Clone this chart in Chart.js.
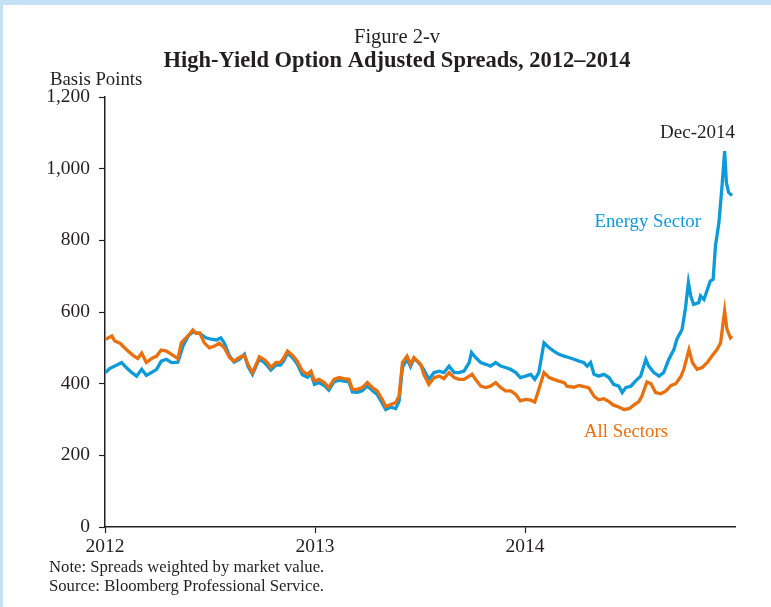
<!DOCTYPE html>
<html>
<head>
<meta charset="utf-8">
<script src="https://cdn.jsdelivr.net/npm/chart.js@4"></script>
<style>
  html, body { margin: 0; padding: 0; background: #ffffff; }
  #wrap { position: relative; width: 771px; height: 607px; overflow: hidden; }
  #c { position: absolute; left: 0; top: 0; }
  .band-top { position: absolute; left: 0; top: 0; width: 771px; height: 5px; background: #c5e1f5; }
  .band-left { position: absolute; left: 0; top: 0; width: 3px; height: 607px; background: #c5e1f5; }
</style>
</head>
<body>
<div id="wrap">
  <canvas id="c" width="771" height="607"></canvas>
  <div class="band-top"></div>
  <div class="band-left"></div>
</div>
<script>
// ---- Data (basis points) ----
const allSectorsDates = [
  '2012-01-02','2012-01-13','2012-01-18','2012-01-27','2012-02-01','2012-02-10','2012-02-19','2012-02-27',
  '2012-03-05','2012-03-13','2012-03-22','2012-03-31','2012-04-08','2012-04-17','2012-04-26','2012-05-07',
  '2012-05-13','2012-05-19','2012-05-28','2012-06-02','2012-06-08','2012-06-14','2012-06-22','2012-07-01',
  '2012-07-10','2012-07-18','2012-07-27','2012-08-05','2012-08-13','2012-08-22','2012-08-31','2012-09-06',
  '2012-09-14','2012-09-23','2012-09-26','2012-10-04','2012-10-10','2012-10-16','2012-10-25','2012-11-02',
  '2012-11-08','2012-11-14','2012-11-23','2012-12-01','2012-12-10','2012-12-19','2012-12-25','2012-12-31',
  '2013-01-08','2013-01-17','2013-01-25','2013-02-03','2013-02-12','2013-02-20','2013-03-01','2013-03-07',
  '2013-03-16','2013-03-24','2013-04-02','2013-04-11','2013-04-19','2013-04-28','2013-05-04','2013-05-13',
  '2013-05-21','2013-05-27','2013-06-02','2013-06-10','2013-06-16','2013-06-22','2013-06-28','2013-07-04',
  '2013-07-09','2013-07-18','2013-07-27','2013-08-05','2013-08-13','2013-08-22','2013-08-31','2013-09-08',
  '2013-09-17','2013-09-26','2013-10-01','2013-10-07','2013-10-16','2013-10-25','2013-11-02','2013-11-11',
  '2013-11-20','2013-11-28','2013-12-07','2013-12-16','2013-12-24','2014-01-02','2014-01-11','2014-01-18',
  '2014-01-25','2014-02-03','2014-02-12','2014-02-20','2014-03-01','2014-03-10','2014-03-15','2014-03-27',
  '2014-04-05','2014-04-13','2014-04-22','2014-05-01','2014-05-09','2014-05-18','2014-05-27','2014-06-04',
  '2014-06-13','2014-06-22','2014-07-01','2014-07-09','2014-07-18','2014-07-23','2014-08-01','2014-08-08',
  '2014-08-16','2014-08-25','2014-09-03','2014-09-12','2014-09-20','2014-09-29','2014-10-04','2014-10-13',
  '2014-10-19','2014-10-27','2014-11-05','2014-11-14','2014-11-22','2014-12-01','2014-12-07','2014-12-14',
  '2014-12-18','2014-12-24','2014-12-27'
];
const allSectorsValues = [
  524,533,519,513,505,491,479,470,
  485,459,470,477,494,491,482,470,
  514,524,540,550,540,542,514,500,
  505,513,500,473,463,473,479,454,
  431,463,475,468,459,445,459,460,
  473,491,479,463,435,426,435,407,
  412,403,389,412,417,414,412,384,
  384,389,403,389,380,356,336,342,
  347,365,459,477,454,473,463,454,
  426,398,417,421,414,431,417,412,
  412,421,426,412,393,389,393,403,
  389,380,380,370,352,356,354,349,
  384,431,417,412,407,403,393,390,
  395,392,388,365,355,358,350,340,
  335,328,330,340,350,365,405,400,
  375,372,380,395,400,420,440,495,
  459,440,445,459,477,496,514,603,
  552,528,533
];

const energyDates = [
  '2012-01-02','2012-01-09','2012-01-18','2012-01-30','2012-02-07','2012-02-16','2012-02-25','2012-03-05',
  '2012-03-13','2012-03-22','2012-03-31','2012-04-08','2012-04-17','2012-04-26','2012-05-07','2012-05-16',
  '2012-05-25','2012-06-02','2012-06-14','2012-06-25','2012-07-04','2012-07-13','2012-07-21','2012-07-27',
  '2012-08-05','2012-08-13','2012-08-22','2012-08-31','2012-09-06','2012-09-14','2012-09-23','2012-09-26',
  '2012-10-04','2012-10-10','2012-10-16','2012-10-25','2012-11-02','2012-11-08','2012-11-14','2012-11-23',
  '2012-12-01','2012-12-10','2012-12-19','2012-12-25','2012-12-31','2013-01-08','2013-01-17','2013-01-25',
  '2013-02-03','2013-02-12','2013-02-20','2013-03-01','2013-03-07','2013-03-16','2013-03-24','2013-04-02',
  '2013-04-11','2013-04-19','2013-04-28','2013-05-04','2013-05-13','2013-05-21','2013-05-27','2013-06-02',
  '2013-06-10','2013-06-16','2013-06-22','2013-06-28','2013-07-09','2013-07-18','2013-07-27','2013-08-05',
  '2013-08-13','2013-08-22','2013-08-31','2013-09-08','2013-09-17','2013-09-26','2013-09-30','2013-10-07',
  '2013-10-16','2013-10-25','2013-11-02','2013-11-11','2013-11-20','2013-11-28','2013-12-07','2013-12-16',
  '2013-12-24','2014-01-02','2014-01-11','2014-01-18','2014-01-25','2014-02-03','2014-02-12','2014-02-20',
  '2014-03-01','2014-03-10','2014-03-18','2014-03-27','2014-04-05','2014-04-13','2014-04-19','2014-04-25',
  '2014-05-01','2014-05-09','2014-05-18','2014-05-27','2014-06-04','2014-06-13','2014-06-19','2014-06-25',
  '2014-07-04','2014-07-12','2014-07-21','2014-07-30','2014-08-04','2014-08-13','2014-08-22','2014-08-30',
  '2014-09-08','2014-09-17','2014-09-22','2014-10-01','2014-10-07','2014-10-12','2014-10-16','2014-10-21',
  '2014-10-30','2014-11-02','2014-11-08','2014-11-14','2014-11-19','2014-11-24','2014-11-28','2014-12-04',
  '2014-12-09','2014-12-14','2014-12-17','2014-12-21','2014-12-27'
];
const energyValues = [
  431,442,449,459,445,432,421,440,
  423,431,440,463,468,459,460,505,
  533,544,540,528,524,522,528,513,
  477,460,468,482,449,426,459,468,
  460,450,438,452,452,465,485,472,
  455,425,418,428,398,403,395,382,
  405,410,407,405,377,376,380,394,
  380,370,345,328,335,330,350,445,
  468,448,470,463,440,412,431,435,
  431,449,431,431,435,459,487,473,
  459,454,449,459,449,445,440,431,
  417,421,426,412,431,514,500,491,
  482,477,473,468,463,459,449,459,
  426,421,426,417,398,393,375,389,
  393,407,421,468,449,431,421,431,
  468,496,524,551,612,682,645,621,
  626,645,635,663,686,691,784,849,
  942,1049,961,933,925
];

const yTickValues = [0, 200, 400, 600, 800, 1000, 1200];
const xTickYears = [2012, 2013, 2014];

// ---- helpers ----
function toYear(s) {
  const [y, m, d] = s.split('-').map(Number);
  const start = Date.UTC(y, 0, 1), end = Date.UTC(y + 1, 0, 1);
  return y + (Date.UTC(y, m - 1, d) - start) / (end - start);
}
function pts(dates, vals) { return dates.map((d, i) => ({ x: toYear(d), y: vals[i] })); }

const SERIF = '"Liberation Serif", "Times New Roman", serif';
const BLUE = '#0d9ad8';
const ORANGE = '#e8700f';
const INK = '#231f20';

const textPlugin = {
  id: 'texts',
  afterDraw(chart) {
    const ctx = chart.ctx;
    ctx.save();
    ctx.textBaseline = 'middle';
    ctx.fillStyle = INK;
    ctx.textAlign = 'center';
    ctx.font = '20.5px ' + SERIF;
    ctx.fillText('Figure 2-v', 397, 38);
    ctx.font = 'bold 22.5px ' + SERIF;
    ctx.fillText('High-Yield Option Adjusted Spreads, 2012\u20132014', 397, 61);
    ctx.textAlign = 'left';
    ctx.font = '18.8px ' + SERIF;
    ctx.fillText('Basis Points', 50, 80);
    ctx.font = '16.7px ' + SERIF;
    ctx.fillText('Note: Spreads weighted by market value.', 49, 568);
    ctx.fillText('Source: Bloomberg Professional Service.', 49, 587);
    ctx.textAlign = 'right';
    ctx.font = '19px ' + SERIF;
    ctx.fillText('Dec-2014', 735, 133);
    ctx.font = '18.8px ' + SERIF;
    ctx.fillStyle = BLUE;
    ctx.fillText('Energy Sector', 701, 222);
    ctx.fillStyle = ORANGE;
    ctx.fillText('All Sectors', 668, 432);
    ctx.restore();
  }
};

new Chart(document.getElementById('c'), {
  type: 'line',
  data: {
    datasets: [
      { label: 'All Sectors', data: pts(allSectorsDates, allSectorsValues),
        borderColor: ORANGE, borderWidth: 3.3, pointRadius: 0, tension: 0, fill: false },
      { label: 'Energy Sector', data: pts(energyDates, energyValues),
        borderColor: BLUE, borderWidth: 3.3, pointRadius: 0, tension: 0, fill: false }
    ]
  },
  options: {
    responsive: false,
    animation: false,
    events: [],
    layout: { padding: { left: 45, right: 36, top: 97, bottom: 50 } },
    plugins: { legend: { display: false }, tooltip: { enabled: false }, title: { display: false } },
    scales: {
      x: {
        type: 'linear', min: 2012, max: 2015,
        afterFit(s) { s.height = 30; },
        afterBuildTicks(s) { s.ticks = xTickYears.map(v => ({ value: v })); },
        grid: { drawOnChartArea: false, drawTicks: true, tickLength: 6, tickColor: INK, tickWidth: 1.2 },
        border: { display: true, color: INK, width: 1.5 },
        ticks: { color: INK, font: { family: SERIF, size: 19.5 }, padding: 2, maxRotation: 0,
                 callback: v => String(v) }
      },
      y: {
        min: 0, max: 1200,
        afterFit(s) { s.width = 60; },
        afterBuildTicks(s) { s.ticks = yTickValues.map(v => ({ value: v })); },
        grid: { drawOnChartArea: false, drawTicks: true, tickLength: 6, tickColor: INK, tickWidth: 1.2 },
        border: { display: true, color: INK, width: 1.5 },
        ticks: { color: INK, font: { family: SERIF, size: 19.5 }, padding: 9,
                 callback: v => v.toLocaleString('en-US') }
      }
    }
  },
  plugins: [textPlugin]
});
</script>
</body>
</html>
